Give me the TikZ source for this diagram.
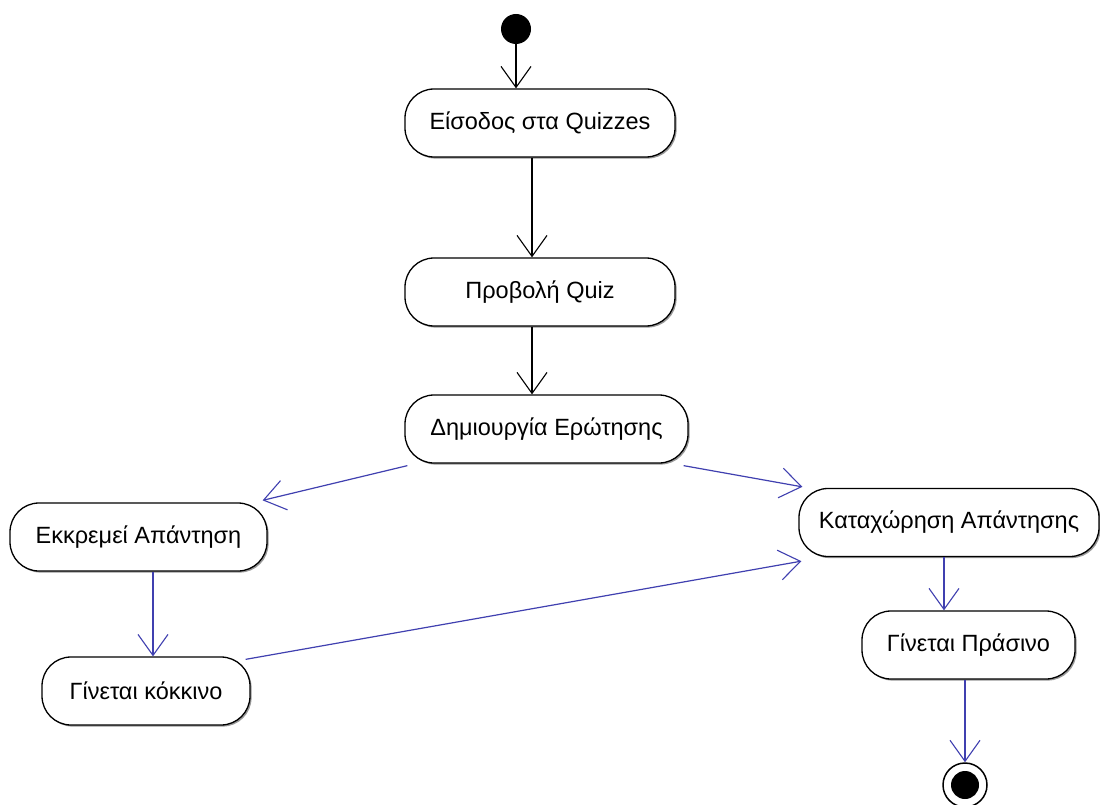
\documentclass[tikz,border=0pt]{standalone}
\usepackage{fontspec}
\setmainfont{Liberation Sans}
\usetikzlibrary{arrows.meta,shadows}
\definecolor{flowblue}{RGB}{64,64,176}
\tikzset{
  activity/.style={draw=black, fill=white, line width=1.3pt, rounded corners=29pt,
    minimum height=68pt, inner sep=0pt, font=\fontsize{23.5}{27}\selectfont,
    drop shadow={shadow xshift=1.6pt, shadow yshift=-1.6pt, fill=black!40, opacity=1}},
  flow/.style={line width=1.2pt, -{Straight Barb[length=21pt,width=30pt,line width=1.1pt]}},
  blackflow/.style={flow, draw=black},
  blueflow/.style={flow, draw=flowblue},
}
\begin{document}
\begin{tikzpicture}[x=1pt,y=-1pt]
\useasboundingbox[fill=white] (0,0) rectangle (1100,805);

% initial and final states
\node[circle, fill=black, minimum size=30pt, inner sep=0pt] (start) at (516,29) {};
\node[circle, draw=black, fill=white, line width=1.5pt, minimum size=44pt, inner sep=0pt] (end) at (965,785) {};
\node[circle, fill=black, minimum size=28pt, inner sep=0pt] (endcore) at (end) {};

% activities
\node[activity, minimum width=270pt] (enter)   at (540,123) {Είσοδος στα Quizzes};
\node[activity, minimum width=270pt] (view)    at (540,292) {Προβολή Quiz};
\node[activity, minimum width=283pt] (create)  at (546.5,429) {Δημιουργία Ερώτησης};
\node[activity, minimum width=257pt] (pending) at (138.5,537) {Εκκρεμεί Απάντηση};
\node[activity, minimum width=300pt] (submit)  at (949,522.5) {Καταχώρηση Απάντησης};
\node[activity, minimum width=208pt] (red)     at (146,691) {Γίνεται κόκκινο};
\node[activity, minimum width=213pt] (green)   at (968.5,645) {Γίνεται Πράσινο};

% main flow
\draw[blackflow] (start.south) -- ([xshift=-24pt]enter.north);
\draw[blackflow] ([xshift=-8pt]enter.south) -- ([xshift=-8pt]view.north);
\draw[blackflow] ([xshift=-8pt]view.south) -- ([xshift=-14.5pt]create.north);

% branches
\draw[blueflow] ([xshift=3pt,yshift=-2pt]create.south west) -- ([xshift=-5pt,yshift=2pt]pending.north east);
\draw[blueflow] ([xshift=-5pt,yshift=-2pt]create.south east) -- ([xshift=4pt,yshift=1pt]submit.north west);
\draw[blueflow] ([xshift=14.5pt]pending.south) -- ([xshift=7pt]red.north);
\draw[blueflow] ([xshift=-5pt,yshift=-3pt]red.north east) -- ([xshift=3pt,yshift=-4pt]submit.south west);
\draw[blueflow] ([xshift=-5pt]submit.south) -- ([xshift=-24.5pt]green.north);
\draw[blueflow] (green.south -| end.north) -- (end.north);
\end{tikzpicture}
\end{document}
